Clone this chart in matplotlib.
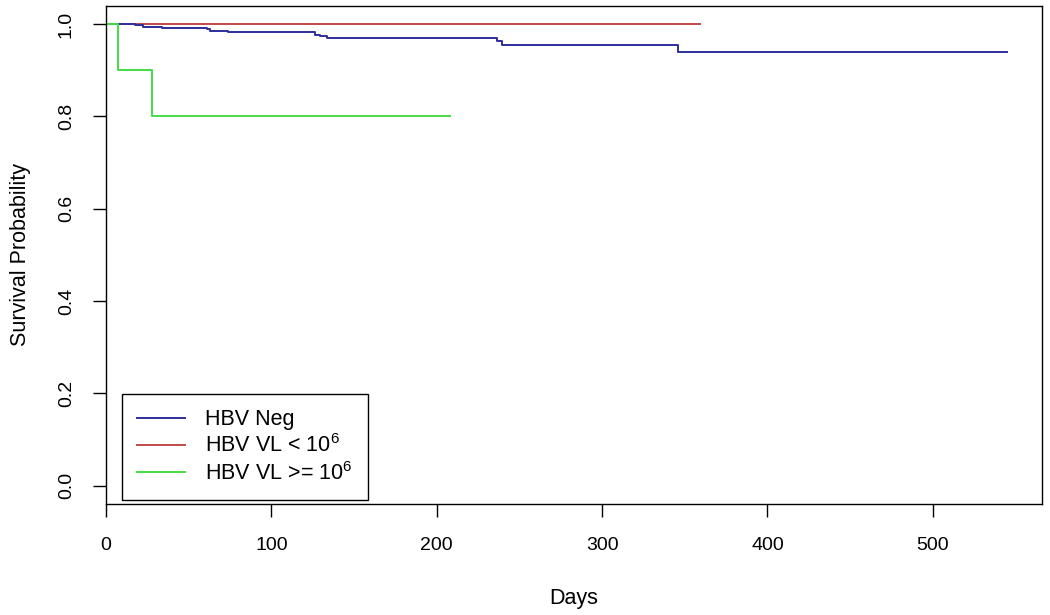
import matplotlib
matplotlib.use("Agg")
import matplotlib.pyplot as plt

plt.rcParams['font.family'] = ['Liberation Sans', 'DejaVu Sans']
plt.rcParams['mathtext.fontset'] = 'custom'
plt.rcParams['mathtext.rm'] = 'Liberation Sans'
plt.rcParams['mathtext.default'] = 'regular'

# Kaplan-Meier step data (days, survival)
neg_times = [0, 17.5, 22.2, 33.7, 60.9, 62.9, 73.8, 126.4, 129.4, 133.6, 236.2, 239.2, 345.8]
neg_surv = [1.0, 0.997, 0.994, 0.991, 0.989, 0.985, 0.982, 0.977, 0.973, 0.970, 0.964, 0.955, 0.940]
neg_end = 545

low_times = [0]
low_surv = [1.0]
low_end = 359

high_times = [0, 7.3, 27.8]
high_surv = [1.0, 0.9, 0.8]
high_end = 208

labels = ["HBV Neg", "HBV VL < 10$^{6}$", "HBV VL >= 10$^{6}$"]
colors = ["#2e2e9e", "#c04a4a", "#44dd44"]

x_ticks = [0, 100, 200, 300, 400, 500]
y_ticks = [0.0, 0.2, 0.4, 0.6, 0.8, 1.0]


def step_line(ax, times, surv, end, color, label):
    xs = list(times) + [end]
    ys = list(surv) + [surv[-1]]
    ax.step(xs, ys, where='post', color=color, lw=1.4, label=label)


fig = plt.figure(figsize=(10.5, 6.15), dpi=100)
ax = fig.add_axes([106 / 1050, 1 - 504 / 615, 936 / 1050, 498.5 / 615])

step_line(ax, low_times, low_surv, low_end, colors[1], labels[1])
step_line(ax, neg_times, neg_surv, neg_end, colors[0], labels[0])
step_line(ax, high_times, high_surv, high_end, colors[2], labels[2])

ax.set_xlim(0, 566)
ax.set_ylim(-0.04, 1.04)
ax.set_xticks(x_ticks)
ax.set_xticklabels([str(t) for t in x_ticks])
ax.set_yticks(y_ticks)
ax.set_yticklabels(["%.1f" % t for t in y_ticks], rotation=90, va='center')

for s in ax.spines.values():
    s.set_linewidth(1.0)
    s.set_color('black')

ax.tick_params(axis='both', direction='out', length=9.5, width=1.0, labelsize=14, color='black')
ax.tick_params(axis='x', pad=14)
ax.tick_params(axis='y', pad=13)

ax.set_xlabel("Days", fontsize=15.5, labelpad=25)
ax.set_ylabel("Survival Probability", fontsize=15.5, labelpad=19)

handles, labs = ax.get_legend_handles_labels()
order = [labs.index(l) for l in labels]
leg = ax.legend([handles[i] for i in order], [labs[i] for i in order],
                loc='lower left', bbox_to_anchor=(0.017, 0.008), borderaxespad=0,
                fancybox=False, edgecolor='black', fontsize=15.5,
                handlelength=2.2, handletextpad=0.95, borderpad=0.72,
                labelspacing=0.2, framealpha=1)
leg.get_frame().set_linewidth(1.0)

fig.savefig("out.png", dpi=100)
